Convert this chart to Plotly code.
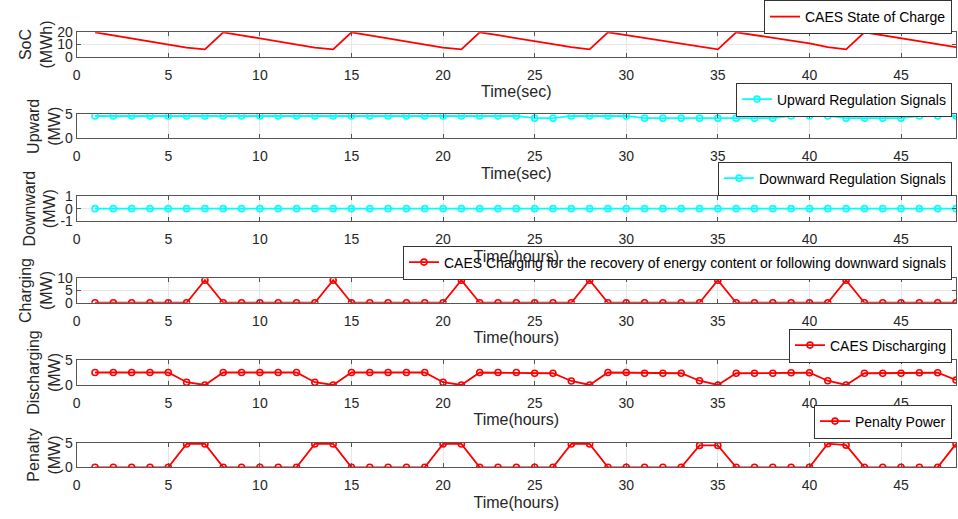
import plotly.graph_objects as go

hours = list(range(1, 49))

soc = [20, 17.5, 15, 12.5, 10, 7.4, 6.0,
       20, 17.5, 15, 12.5, 10, 7.4, 6.0,
       20, 17.5, 15, 12.5, 10, 7.4, 6.0,
       20, 17.6, 15.1, 12.6, 10.2, 7.9, 6.0,
       20, 17.7, 15.4, 13.1, 10.8, 8.4, 6.0,
       20, 17.7, 15.4, 13.1, 10.9, 7.9, 6.0,
       20, 17.6, 15.2, 12.8, 10.3, 7.8]

upward = [4.65] * 24 + [4.2, 4.2] + [4.65] * 4 + [4.2] * 8 + [4.65] * 3 + [4.2] * 4 + [4.65] * 3

downward = [0.0] * 48

charging = [0, 0, 0, 0, 0, 0, 9.2,
            0, 0, 0, 0, 0, 0, 9.2,
            0, 0, 0, 0, 0, 0, 9.2,
            0, 0, 0, 0, 0, 0, 9.2,
            0, 0, 0, 0, 0, 0, 9.2,
            0, 0, 0, 0, 0, 0, 9.2,
            0, 0, 0, 0, 0, 0]

discharging = [2.5, 2.5, 2.5, 2.5, 2.5, 0.55, 0,
               2.5, 2.5, 2.5, 2.5, 2.5, 0.55, 0,
               2.5, 2.5, 2.5, 2.5, 2.5, 0.55, 0,
               2.5, 2.5, 2.5, 2.35, 2.35, 0.8, 0,
               2.5, 2.5, 2.35, 2.35, 2.35, 0.85, 0,
               2.35, 2.35, 2.35, 2.45, 2.45, 0.85, 0,
               2.35, 2.35, 2.35, 2.45, 2.45, 1.0]

penalty = [0, 0, 0, 0, 0, 4.75, 4.75,
           0, 0, 0, 0, 0, 4.75, 4.75,
           0, 0, 0, 0, 0, 4.75, 4.75,
           0, 0, 0, 0, 0, 4.75, 4.75,
           0, 0, 0, 0, 0, 4.45, 4.45,
           0, 0, 0, 0, 0, 4.8, 4.5,
           0, 0, 0, 0, 0, 4.75]

series_names = ["CAES State of Charge", "Upward Regulation Signals",
                "Downward Regulation Signals",
                "CAES Charging for the recovery of energy content or following downward signals",
                "CAES Discharging", "Penalty Power"]
y_titles = ["SoC<br>(MWh)", "Upward<br>(MW)", "Downward<br>(MW)",
            "Charging<br>(MW)", "Discharging<br>(MW)", "Penalty<br>(MW)"]
x_titles = ["Time(sec)", "Time(sec)", "Time(hours)", "Time(hours)", "Time(hours)", "Time(hours)"]
y_ranges = [[0, 20], [0, 5], [-1, 1], [0, 10], [0, 5], [0, 5]]
y_ticks = [[0, 10, 20], [0, 5], [-1, 0, 1], [0, 5, 10], [0, 5], [0, 5]]
x_ticks = [0, 5, 10, 15, 20, 25, 30, 35, 40, 45]

W, H = 958, 519
boxes = [(32.3, 56.7), (114.3, 138.3), (196.0, 221.3), (278.3, 302.7), (360.0, 385.0), (442.7, 467.3)]
legend_centers = [17, 99.5, 178.5, 262.5, 345.5, 421.5]
x_left, x_right = 76.7, 956.0

FONT = "Liberation Sans, Arial, sans-serif"
RED = "#FF0000"
CYAN = "#00FFFF"

data = [soc, upward, downward, charging, discharging, penalty]
colors = [RED, CYAN, CYAN, RED, RED, RED]
markers = [False, True, True, True, True, True]

fig = go.Figure()
layout = dict(
    width=W, height=H, margin=dict(l=0, r=0, t=0, b=0, autoexpand=False),
    paper_bgcolor="white", plot_bgcolor="white",
    font=dict(family=FONT, size=14, color="#262626"),
    showlegend=True,
)

for i in range(6):
    n = i + 1
    xa = "x" if n == 1 else f"x{n}"
    ya = "y" if n == 1 else f"y{n}"
    lg = "legend" if n == 1 else f"legend{n}"
    mode = "lines+markers" if markers[i] else "lines"
    fig.add_trace(go.Scatter(
        x=hours, y=data[i], mode=mode, name=series_names[i],
        xaxis=xa, yaxis=ya, legend=lg,
        line=dict(color=colors[i], width=1.8),
        marker=dict(symbol="circle-open", size=6, color=colors[i], line=dict(width=1.6, color=colors[i])),
    ))
    top, bot = boxes[i]
    axis_common = dict(showline=True, linecolor="#555555", linewidth=1, mirror="allticks",
                       ticks="inside", ticklen=4, tickcolor="#555555", automargin=False,
                       showgrid=True, gridcolor="#E6E6E6", gridwidth=1, zeroline=False,
                       tickfont=dict(family=FONT, size=14, color="#262626"))
    layout["xaxis" if n == 1 else f"xaxis{n}"] = dict(
        domain=[x_left / W, x_right / W], range=[0, 48], anchor=ya,
        tickvals=x_ticks, ticktext=[str(v) for v in x_ticks], ticklabelstandoff=5,
        title=dict(text=x_titles[i], font=dict(family=FONT, size=16, color="#262626"), standoff=4),
        **axis_common)
    layout["yaxis" if n == 1 else f"yaxis{n}"] = dict(
        domain=[1 - bot / H, 1 - top / H], range=y_ranges[i], anchor=xa,
        tickvals=y_ticks[i], ticktext=[str(v) for v in y_ticks[i]],
        title=dict(text=y_titles[i], font=dict(family=FONT, size=16, color="#262626"), standoff=0),
        **axis_common)
    layout[lg] = dict(x=952 / W, xanchor="right", y=1 - legend_centers[i] / H, yanchor="middle",
                      bgcolor="white", bordercolor="#333333", borderwidth=1,
                      font=dict(family=FONT, size=14, color="#000000"),
                      itemwidth=30, tracegroupgap=0)

fig.update_layout(**layout)
fig.write_html("out.html", config={"displayModeBar": False},
               post_script="document.body.style.margin='0px';")
